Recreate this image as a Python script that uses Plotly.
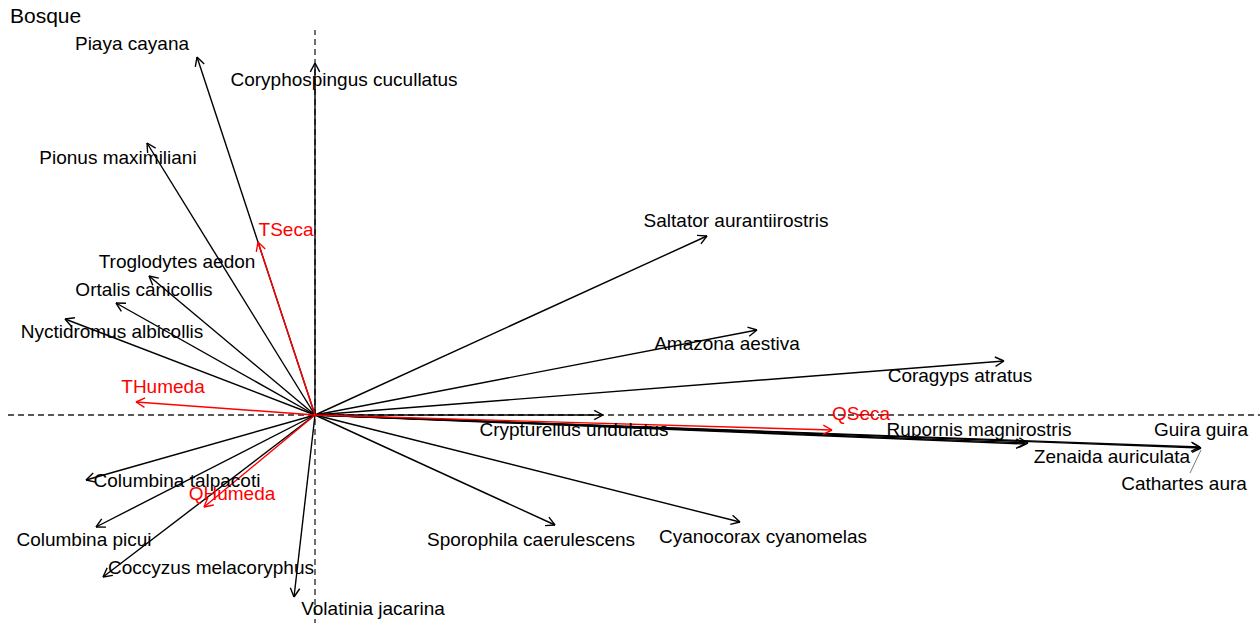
import numpy as np
import plotly.graph_objects as go

# Species loadings (biplot arrow tips)
species = [
    "Piaya cayana", "Coryphospingus cucullatus", "Pionus maximiliani",
    "Troglodytes aedon", "Ortalis canicollis", "Nyctidromus albicollis",
    "Columbina talpacoti", "Columbina picui", "Coccyzus melacoryphus",
    "Volatinia jacarina", "Sporophila caerulescens", "Cyanocorax cyanomelas",
    "Crypturellus undulatus", "Rupornis magnirostris", "Zenaida auriculata",
    "Guira guira", "Cathartes aura", "Saltator aurantiirostris",
    "Amazona aestiva", "Coragyps atratus",
]
sp_x = [-1.18, 0.00, -1.68, -1.66, -1.99, -2.50, -2.29, -2.19, -2.12, -0.21,
        2.40, 4.25, 2.88, 7.13, 7.10, 8.85, 8.86, 3.92, 4.42, 6.89]
sp_y = [3.58, 3.52, 2.72, 1.39, 1.12, 0.96, -0.65, -1.12, -1.62, -1.82,
        -1.10, -1.07, 0.00, -0.28, -0.29, -0.32, -0.33, 1.79, 0.85, 0.54]

# Environmental variables
env = ["TSeca", "THumeda", "QHumeda", "QSeca"]
env_x = [-0.57, -1.79, -1.11, 5.17]
env_y = [1.73, 0.13, -0.92, -0.15]

# Label placement
sp_lab_x = [-1.83, 0.29, -1.97, -1.38, -1.71, -2.03, -1.38, -2.31, -1.04, 0.58,
            2.16, 4.48, 2.59, 6.64, 7.97, 8.86, 8.69, 4.21, 4.12, 6.45]
sp_lab_y = [3.70, 3.34, 2.56, 1.52, 1.24, 0.82, -0.67, -1.26, -1.54, -1.95,
            -1.26, -1.23, -0.16, -0.16, -0.43, -0.16, -0.70, 1.93, 0.70, 0.38]
env_lab_x = [-0.29, -1.52, -0.83, 5.46]
env_lab_y = [1.84, 0.27, -0.80, 0.00]

HEAD_LEN = 0.10
HEAD_ANG = np.deg2rad(28)


def arrow_xy(x1, y1):
    """Shaft from origin plus an open V head, separated by None gaps."""
    ang = np.arctan2(y1, x1)
    xs = [0, x1, None]
    ys = [0, y1, None]
    for s in (1, -1):
        a = ang + np.pi + s * HEAD_ANG
        xs += [x1 + HEAD_LEN * np.cos(a), x1, None]
        ys += [y1 + HEAD_LEN * np.sin(a), y1, None]
    return xs, ys


fig = go.Figure()

# Reference axes through the origin
fig.add_trace(go.Scatter(x=[0, 0], y=[-2.2, 3.85], mode="lines",
                         line=dict(color="#222222", width=1.3, dash="6px,4px"),
                         hoverinfo="skip"))
fig.add_trace(go.Scatter(x=[-3.07, 9.6], y=[0, 0], mode="lines",
                         line=dict(color="#222222", width=1.3, dash="6px,4px"),
                         hoverinfo="skip"))

# Species arrows
ax, ay = [], []
for x, y in zip(sp_x, sp_y):
    xs, ys = arrow_xy(x, y)
    ax += xs
    ay += ys
fig.add_trace(go.Scatter(x=ax, y=ay, mode="lines",
                         line=dict(color="black", width=1.4), hoverinfo="skip"))

# Environmental arrows
ex, ey = [], []
for x, y in zip(env_x, env_y):
    xs, ys = arrow_xy(x, y)
    ex += xs
    ey += ys
fig.add_trace(go.Scatter(x=ex, y=ey, mode="lines",
                         line=dict(color="red", width=1.4), hoverinfo="skip"))

# Leader line for the crowded label
ci = species.index("Cathartes aura")
fig.add_trace(go.Scatter(x=[sp_lab_x[ci] + 0.06, sp_x[ci]],
                         y=[sp_lab_y[ci] + 0.12, sp_y[ci] - 0.02], mode="lines",
                         line=dict(color="#555555", width=0.8), hoverinfo="skip"))

fig.add_trace(go.Scatter(x=sp_lab_x, y=sp_lab_y, text=species, mode="text",
                         textposition="middle center",
                         textfont=dict(family="Liberation Sans, Arial", size=19,
                                       color="black"),
                         hoverinfo="skip"))
fig.add_trace(go.Scatter(x=env_lab_x, y=env_lab_y, text=env, mode="text",
                         textposition="middle center",
                         textfont=dict(family="Liberation Sans, Arial", size=19,
                                       color="red"),
                         hoverinfo="skip"))

fig.add_annotation(text="Bosque", xref="paper", yref="paper", x=0.006, y=0.997,
                   xanchor="left", yanchor="top", showarrow=False,
                   font=dict(family="Liberation Sans, Arial", size=21, color="black"))

fig.update_layout(
    width=1260, height=623,
    margin=dict(l=0, r=0, t=0, b=0),
    paper_bgcolor="white", plot_bgcolor="white",
    showlegend=False,
    xaxis=dict(range=[-3.15, 9.45], visible=False, fixedrange=True),
    yaxis=dict(range=[-2.08, 4.15], visible=False, fixedrange=True),
)

fig.write_html("out.html")
